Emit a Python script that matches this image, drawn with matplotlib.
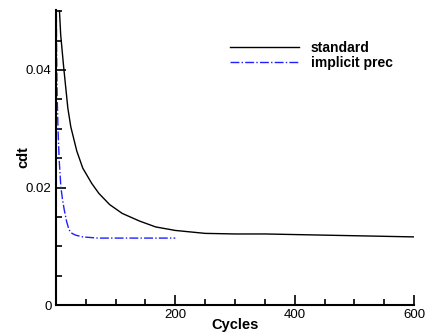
import numpy as np
import matplotlib.pyplot as plt
from matplotlib.ticker import MultipleLocator

# convergence history
std_cycles = [0, 0.5, 1, 3, 5, 8, 13, 20, 25, 35, 45, 60, 72, 90, 111, 140, 167,
              200, 250, 300, 350, 400, 450, 500, 550, 600]
std_cdt = [0.0, 0.06, 0.062, 0.056, 0.052, 0.046, 0.0405, 0.0335, 0.0303, 0.0262,
           0.0233, 0.0207, 0.0190, 0.0171, 0.0156, 0.0143, 0.0133, 0.0127, 0.0122,
           0.0121, 0.0121, 0.0120, 0.0119, 0.0118, 0.0117, 0.0116]

prec_cycles = [0, 0.3, 1, 2, 3.5, 5.5, 8.3, 11, 14, 18, 22, 27, 33, 45, 70, 100,
               150, 200]
prec_cdt = [0.0, 0.06, 0.045, 0.036, 0.030, 0.0247, 0.0201, 0.0180, 0.0162, 0.0142,
            0.0128, 0.0122, 0.0119, 0.0116, 0.0114, 0.0114, 0.0114, 0.0114]

plt.rcParams['font.family'] = ['Liberation Sans', 'DejaVu Sans']

fig = plt.figure(figsize=(4.3, 3.32), dpi=100)
ax = fig.add_axes([0.130, 0.081, 0.833, 0.889])

ax.plot(std_cycles, std_cdt, color='black', lw=1.0, label='standard')
ax.plot(prec_cycles, prec_cdt, color='#2020ff', lw=1.0, ls='-.', label='implicit prec')

ax.set_xlim(0, 600)
ax.set_ylim(0, 0.0502)
ax.set_xticks([200, 400, 600])
ax.set_yticks([0, 0.02, 0.04])
ax.set_yticklabels(['0', '0.02', '0.04'])
ax.xaxis.set_minor_locator(MultipleLocator(50))
ax.yaxis.set_minor_locator(MultipleLocator(0.005))
ax.tick_params(which='both', direction='in', labelsize=9.5, top=False, right=False,
               width=1.2, pad=3)
ax.tick_params(which='major', length=7)
ax.tick_params(which='minor', length=4)

for side in ['top', 'right']:
    ax.spines[side].set_visible(False)
for side in ['left', 'bottom']:
    ax.spines[side].set_linewidth(1.5)

ax.set_xlabel('Cycles', fontsize=10.5, fontweight='bold', labelpad=-2.5)
ax.set_ylabel('cdt', fontsize=10.5, fontweight='bold', labelpad=-3)

ax.legend(loc='upper left', bbox_to_anchor=(0.486, 0.895), frameon=False,
          prop={'weight': 'bold', 'size': 10}, handlelength=5.0,
          handletextpad=0.8, labelspacing=0.05, borderpad=0, borderaxespad=0)

fig.savefig('out.png', dpi=100)
